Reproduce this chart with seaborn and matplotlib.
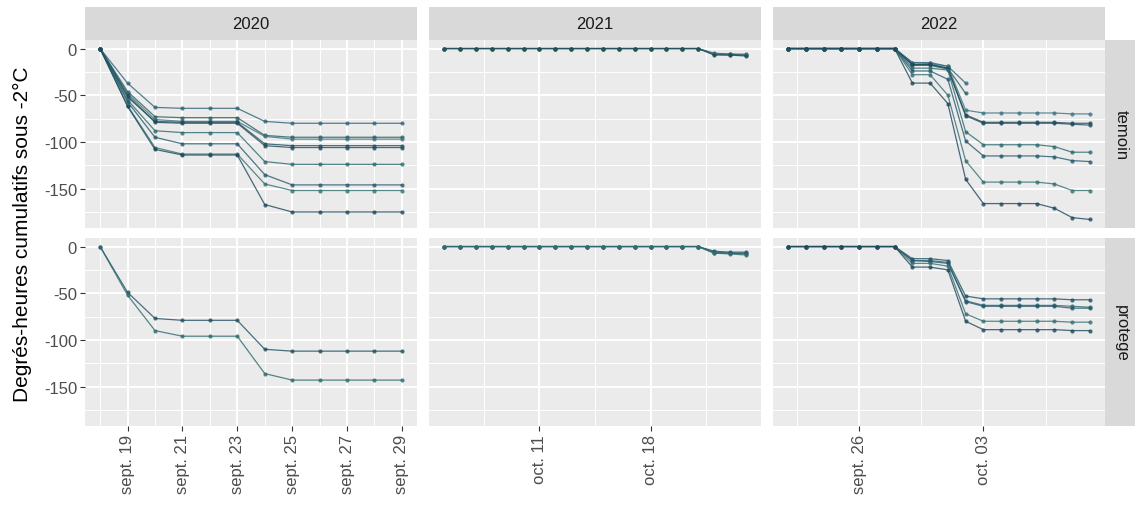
import pandas as pd
import seaborn as sns
import matplotlib
matplotlib.use("Agg")
import matplotlib.pyplot as plt
import matplotlib.dates as mdates
from matplotlib.ticker import FixedLocator, FuncFormatter, MultipleLocator

plt.rcParams["font.family"] = ["Liberation Sans", "DejaVu Sans"]
plt.rcParams["axes.unicode_minus"] = False

# ---- data ----
annees = ["2020", "2021", "2022"]
traitements = ["temoin", "protege"]

dates_2020 = pd.date_range("2020-09-18", "2020-09-29", freq="D")
dates_2021 = pd.date_range("2021-10-05", "2021-10-24", freq="D")
dates_2022 = pd.date_range("2022-09-22", "2022-10-09", freq="D")

temoin_2020 = {
    "t1": [0, -37, -63, -64, -64, -64, -78, -80, -80, -80, -80, -80],
    "t2": [0, -46, -73, -74, -74, -74, -93, -95, -95, -95, -95, -95],
    "t3": [0, -48, -76, -78, -78, -78, -94, -97, -97, -97, -97, -97],
    "t4": [0, -50, -79, -80, -80, -80, -104, -106, -106, -106, -106, -106],
    "t5": [0, -52, -78, -79, -79, -79, -102, -104, -104, -104, -104, -104],
    "t6": [0, -55, -88, -90, -90, -90, -121, -124, -124, -124, -124, -124],
    "t7": [0, -57, -95, -102, -102, -102, -135, -146, -146, -146, -146, -146],
    "t8": [0, -61, -106, -113, -113, -113, -145, -152, -152, -152, -152, -152],
    "t9": [0, -62, -108, -114, -114, -114, -167, -175, -175, -175, -175, -175],
}
protege_2020 = {
    "p1": [0, -49, -77, -79, -79, -79, -110, -112, -112, -112, -112, -112],
    "p2": [0, -52, -90, -96, -96, -96, -136, -143, -143, -143, -143, -143],
}

zeros_2021 = [0] * 17
temoin_2021 = {
    "t1": zeros_2021 + [-5, -6, -6],
    "t2": zeros_2021 + [-6, -6, -7],
    "t3": zeros_2021 + [-6, -7, -7],
    "t4": zeros_2021 + [-7, -7, -8],
}
protege_2021 = {
    "p1": zeros_2021 + [-5, -6, -6],
    "p2": zeros_2021 + [-6, -7, -7],
    "p3": zeros_2021 + [-7, -7, -8],
    "p4": zeros_2021 + [-7, -8, -9],
}

zeros_2022 = [0] * 7
temoin_2022 = {
    "t1": zeros_2022 + [-15, -15, -19, -37],
    "t2": zeros_2022 + [-17, -17, -21, -48],
    "t3": zeros_2022 + [-15, -16, -19, -66, -69, -69, -69, -69, -69, -70, -70],
    "t4": zeros_2022 + [-17, -17, -21, -71, -79, -79, -79, -79, -79, -80, -80],
    "t5": zeros_2022 + [-18, -18, -22, -72, -80, -80, -80, -80, -80, -81, -82],
    "t6": zeros_2022 + [-21, -21, -23, -89, -103, -103, -103, -103, -105, -111, -111],
    "t7": zeros_2022 + [-24, -24, -33, -99, -115, -115, -115, -115, -116, -120, -121],
    "t8": zeros_2022 + [-28, -28, -50, -120, -143, -143, -143, -143, -145, -152, -152],
    "t9": zeros_2022 + [-37, -37, -59, -140, -166, -166, -166, -166, -171, -181, -183],
}
protege_2022 = {
    "p1": zeros_2022 + [-13, -13, -15, -53, -56, -56, -56, -56, -56, -57, -57],
    "p2": zeros_2022 + [-15, -15, -17, -58, -63, -63, -63, -63, -63, -64, -65],
    "p3": zeros_2022 + [-15, -16, -18, -59, -64, -64, -64, -64, -64, -66, -66],
    "p4": zeros_2022 + [-18, -18, -21, -72, -80, -80, -80, -80, -80, -81, -81],
    "p5": zeros_2022 + [-22, -22, -25, -80, -89, -89, -89, -89, -89, -90, -90],
}

ticks_2020 = ["2020-09-19", "2020-09-21", "2020-09-23", "2020-09-25", "2020-09-27", "2020-09-29"]
ticks_2021 = ["2021-10-11", "2021-10-18"]
ticks_2022 = ["2022-09-26", "2022-10-03"]
y_ticks = [0, -50, -100, -150]
mois_fr = {9: "sept.", 10: "oct."}

series = {
    ("2020", "temoin"): temoin_2020, ("2020", "protege"): protege_2020,
    ("2021", "temoin"): temoin_2021, ("2021", "protege"): protege_2021,
    ("2022", "temoin"): temoin_2022, ("2022", "protege"): protege_2022,
}
dates = {"2020": dates_2020, "2021": dates_2021, "2022": dates_2022}
ticks = {"2020": ticks_2020, "2021": ticks_2021, "2022": ticks_2022}

rows = []
for (an, trt), lines in series.items():
    for capteur, vals in lines.items():
        for d, v in zip(dates[an], vals):
            rows.append({"annee": an, "traitement": trt, "capteur": capteur,
                         "date": d, "valeur": v})
df = pd.DataFrame(rows)

teal = ["#1f4e61", "#2b6a6b", "#24566e", "#336f72", "#1c475a",
        "#2d6278", "#275e5a", "#3a7382", "#214b55"]
capteurs = sorted(df["capteur"].unique())
pal = {c: teal[i % len(teal)] for i, c in enumerate(capteurs)}

# ggplot-like 5% expansion
ymin, ymax = df["valeur"].min(), df["valeur"].max()
yr = ymax - ymin
ylim = (ymin - 0.05 * yr, ymax + 0.05 * yr)

# ---- layout (pixels) ----
W, H = 1135, 506
fig = plt.figure(figsize=(W / 100, H / 100), dpi=100)


def px_axes(x0, y0, x1, y1):
    return fig.add_axes([x0 / W, 1 - y1 / H, (x1 - x0) / W, (y1 - y0) / H])


col_x = [(85, 417), (429, 761), (773, 1105)]
row_y = [(41, 229), (239, 427)]
strip_top = (8, 41)
strip_right = (1105, 1138)


def fr_date(x, pos):
    d = mdates.num2date(x)
    return f"{mois_fr[d.month]} {d.day:02d}"


for j, an in enumerate(annees):
    x0, x1 = col_x[j]
    st = px_axes(x0, strip_top[0], x1, strip_top[1])
    st.set_facecolor("#D9D9D9")
    st.set_xticks([])
    st.set_yticks([])
    for s in st.spines.values():
        s.set_visible(False)
    st.text(0.5, 0.5, an, ha="center", va="center", fontsize=12,
            color="#1A1A1A", transform=st.transAxes)

    d = mdates.date2num(dates[an])
    xr = d.max() - d.min()
    xlim = (d.min() - 0.05 * xr, d.max() + 0.05 * xr)
    major = mdates.date2num(pd.to_datetime(ticks[an]))
    step = major[1] - major[0]
    minor = [m - step / 2 for m in major] + [major[-1] + step / 2]

    for i, trt in enumerate(traitements):
        y0, y1 = row_y[i]
        ax = px_axes(x0, y0, x1, y1)
        ax.set_facecolor("#EBEBEB")
        for s in ax.spines.values():
            s.set_visible(False)
        sub = df[(df["annee"] == an) & (df["traitement"] == trt)]
        sns.lineplot(data=sub, x="date", y="valeur", hue="capteur",
                     palette=pal, marker="o", markersize=3, markeredgewidth=0,
                     linewidth=0.9, alpha=0.8, legend=False, ax=ax)
        ax.set_xlim(xlim)
        ax.set_ylim(ylim)
        ax.set_xlabel("")
        ax.set_ylabel("")
        ax.xaxis.set_major_locator(FixedLocator(major))
        ax.xaxis.set_minor_locator(FixedLocator(minor))
        ax.xaxis.set_major_formatter(FuncFormatter(fr_date))
        ax.yaxis.set_major_locator(FixedLocator(y_ticks))
        ax.yaxis.set_minor_locator(MultipleLocator(25))
        ax.set_axisbelow(True)
        ax.grid(which="major", color="white", linewidth=1.4)
        ax.grid(which="minor", color="white", linewidth=0.7)
        ax.tick_params(which="minor", length=0)
        ax.tick_params(which="major", length=3.7, width=0.8, color="#333333",
                       labelcolor="#4D4D4D", labelsize=12, pad=2)
        ax.tick_params(axis="x", labelrotation=90)
        if i == 0:
            ax.tick_params(axis="x", length=0, labelbottom=False)
        if j > 0:
            ax.tick_params(axis="y", length=0, labelleft=False)

        if j == len(annees) - 1:
            sr = px_axes(strip_right[0], y0, strip_right[1], y1)
            sr.set_facecolor("#D9D9D9")
            sr.set_xticks([])
            sr.set_yticks([])
            for s in sr.spines.values():
                s.set_visible(False)
            sr.text(0.5, 0.5, trt, ha="center", va="center", fontsize=12,
                    rotation=-90, color="#1A1A1A", transform=sr.transAxes)

fig.text(22 / W, 1 - 234 / H, "Degrés-heures cumulatifs sous -2°C",
         rotation=90, ha="center", va="center", fontsize=15, color="black")

fig.savefig("out.png", dpi=100)
